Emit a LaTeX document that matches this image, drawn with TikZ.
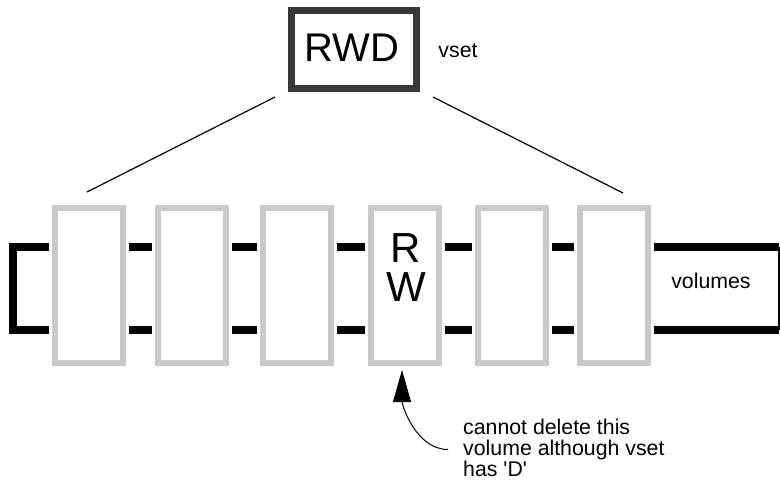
\documentclass[tikz,border=0pt]{standalone}
\usepackage{fontspec}
\setmainfont{Liberation Sans}
\usetikzlibrary{arrows.meta, positioning, calc}

\begin{document}
\begin{tikzpicture}[
  x=1pt, y=-1pt,
  volbox/.style={draw=gray!42, line width=6pt, fill=white, minimum width=68pt, minimum height=155pt, inner sep=0pt},
  vsetbox/.style={draw=black!78, line width=7pt, fill=white, minimum width=125pt, minimum height=78pt, inner sep=0pt},
  bar/.style={line width=8pt, line cap=butt, line join=miter},
  big/.style={font=\fontsize{40}{39}\selectfont, align=center, inner sep=0pt},
  lbl/.style={font=\fontsize{21.3}{20}\selectfont, inner sep=0pt},
]
  \useasboundingbox (0,0) rectangle (780,483);

  % the vset and its volumes
  \node[vsetbox] (rwd) at (354,49.5) {};
  \node[big] (rwdtext) at (352,48) {RWD};
  \node[lbl] (vset) at (458,51) {vset};

  \node[volbox] (vol1) at (89,285.5)  {};
  \node[volbox] (vol2) at (192,285.5) {};
  \node[volbox] (vol3) at (296.5,285.5) {};
  \node[volbox] (vol4) at (405,285.5) {};
  \node[volbox] (vol5) at (511.5,285.5) {};
  \node[volbox] (vol6) at (613.5,285.5) {};
  \node[big, font=\fontsize{42}{39}\selectfont] (rwtext) at (406,268) {R\\W};

  % fan-out lines
  \coordinate (fanl) at (275,97);
  \coordinate (fanr) at (433,97);
  \draw[line width=1.2pt] (fanl) -- (87,192);
  \draw[line width=1.2pt] (fanr) -- (623,193);

  % rails between the volumes
  \foreach \a/\b in {vol1/vol2, vol2/vol3, vol3/vol4, vol4/vol5, vol5/vol6} {
    \draw[bar, shorten <=3pt, shorten >=3pt] ([yshift=38.5pt]\a.east) -- ([yshift=38.5pt]\b.west);
    \draw[bar, shorten <=3pt, shorten >=3pt] ([yshift=-44.5pt]\a.east) -- ([yshift=-44.5pt]\b.west);
  }
  \draw[bar, shorten <=3pt, shorten >=3pt] ([yshift=38.5pt]vol1.west) -- ++(-39,0) |- ([yshift=-44.5pt]vol1.west);

  \coordinate (rtop) at (779,247);
  \coordinate (rbot) at (779,330);
  \draw[bar, shorten <=3pt] ([yshift=38.5pt]vol6.east) -- (rtop);
  \draw[bar, shorten <=3pt] ([yshift=-44.5pt]vol6.east) -- (rbot);
  \draw[line width=1.5pt] (rtop) -- (rbot);
  \node[lbl] (volumes) at (711,281) {volumes};

  % note on the RW volume
  \node[lbl, anchor=base west] (note1) at (463,434) {cannot delete this};
  \node[lbl, anchor=base west] (note2) at (463,455) {volume although vset};
  \node[lbl, anchor=base west] (note3) at (463,476) {has \textquotesingle D\textquotesingle};
  \draw[line width=1pt, -{Triangle[length=32pt, width=18pt]}]
    ([xshift=-15pt]note2.west) .. controls +(-32,0) and +(0,35) .. ([xshift=-3pt,yshift=-4pt]vol4.south);
\end{tikzpicture}
\end{document}
